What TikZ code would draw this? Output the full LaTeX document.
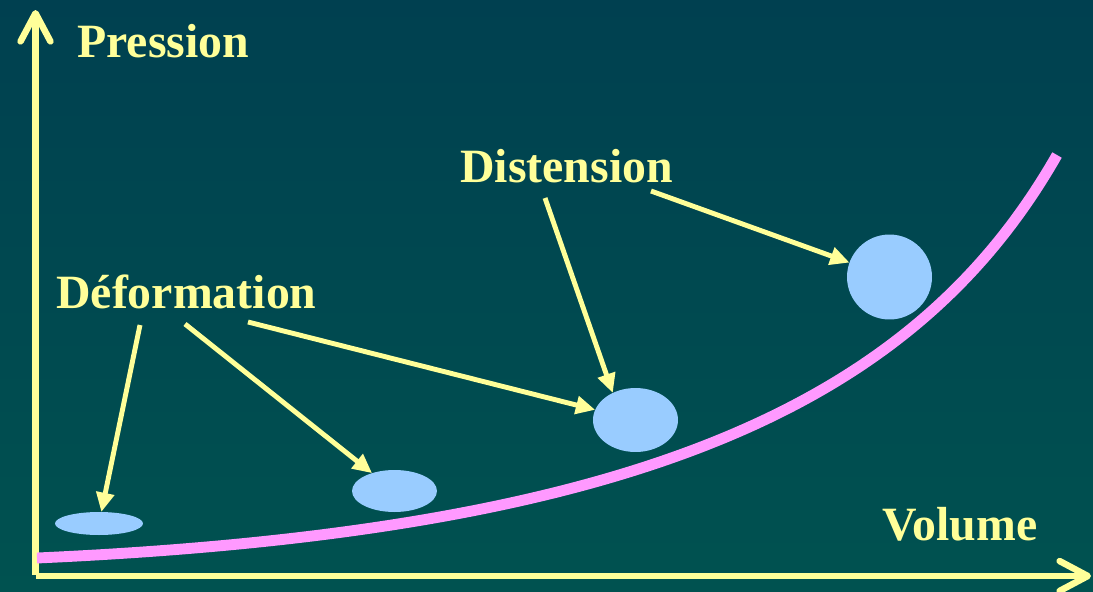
\documentclass[tikz,border=0pt]{standalone}
\usepackage{fontspec}
\setmainfont{Liberation Serif}
\usetikzlibrary{arrows.meta,shapes.geometric}
\definecolor{fondhaut}{RGB}{0,64,80}
\definecolor{fondbas}{RGB}{0,82,80}
\definecolor{jaune}{RGB}{255,255,153}
\definecolor{rose}{RGB}{255,153,255}
\definecolor{bleuclair}{RGB}{153,204,255}
\tikzset{
  axe/.style={draw=jaune, line width=3.7pt,
    -{Straight Barb[length=16pt, width=17pt, round]}},
  courbe/.style={draw=rose, line width=6.2pt},
  titre/.style={text=jaune, inner sep=0pt, anchor=base west,
    font=\fontsize{27.2}{32}\selectfont\bfseries},
  blob/.style={ellipse, fill=bleuclair, inner sep=0pt, outer sep=0pt},
  fl/.style={draw=jaune, line width=2.8pt, -{Triangle[length=11pt, width=10pt]}},
}

\begin{document}
\begin{tikzpicture}[x=0.02cm, y=-0.02cm]
  \useasboundingbox (0,0) rectangle (1093,592);
  \shade[top color=fondhaut, bottom color=fondbas] (0,0) rectangle (1093,592);

  % axes
  \coordinate (ybas) at (35.5,575);
  \coordinate (yhaut) at (35.5,10);
  \coordinate (xgauche) at (36,576);
  \coordinate (xdroite) at (1091,576);
  \draw[axe] (ybas) -- (yhaut);
  \draw[axe] (xgauche) -- (xdroite);

  % courbe pression-volume
  \coordinate (c0) at (37,558);
  \coordinate (c1) at (1057,155);
  \draw[courbe] (c0) .. controls (637,531) and (914.5,405) .. (c1);

  \node[titre] (pression) at (77,57) {Pression};
  \node[titre] (volume) at (882,540) {Volume};
  \node[titre] (deform) at (56,308) {Déformation};
  \node[titre] (disten) at (460,182) {Distension};

  \node[blob, minimum width=1.76cm, minimum height=0.46cm] (e1) at (99,523.5) {};
  \node[blob, minimum width=1.7cm, minimum height=0.84cm] (e2) at (394.5,491) {};
  \node[blob, minimum width=1.7cm, minimum height=1.28cm] (e3) at (635.5,420) {};
  \node[blob, minimum width=1.7cm, minimum height=1.7cm] (e4) at (889.5,277) {};

  \coordinate (d1) at (140,325);
  \coordinate (d2) at (185,324);
  \coordinate (d3) at (248,322);
  \coordinate (t1) at (545,198);
  \coordinate (t2) at (651,191);

  \foreach \a/\b in {d1/e1, d2/e2, d3/e3, t1/e3.130, t2/e4} {
    \draw[fl] (\a) -- (\b);
  }
\end{tikzpicture}
\end{document}
